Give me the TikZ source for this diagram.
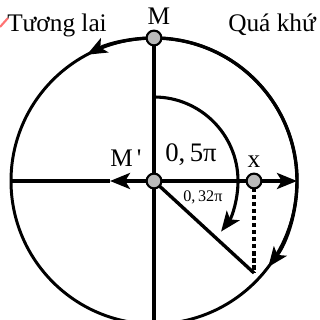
\documentclass[tikz,border=0pt]{standalone}
\usepackage{fontspec}
\setmainfont{Liberation Serif}
\usetikzlibrary{arrows.meta,positioning,calc}
\tikzset{
  dot/.style={circle, draw=black, fill=black!27, line width=1.5pt, minimum size=3.7mm, inner sep=0pt},
  lbl/.style={inner sep=0pt, font=\fontsize{18}{18}\selectfont},
  biglbl/.style={inner sep=0pt, font=\fontsize{19}{19}\selectfont},
  smalllbl/.style={inner sep=0pt, font=\fontsize{11.5}{11.5}\selectfont},
  axis/.style={line width=2.4pt},
  arrow/.style={-{Stealth[length=5mm,width=4mm,inset=1.2mm]}, line width=2.4pt},
  dotline/.style={line width=2.2pt, dash pattern=on 3pt off 2pt}
}
\begin{document}
\begin{tikzpicture}[x=0.025cm,y=0.025cm]
\useasboundingbox (-154,-139) rectangle (166,181);
\coordinate (O) at (0,0);
\coordinate (top) at (0,143);
\coordinate (bot) at (0,-139);
\coordinate (W) at (-143,0);
\coordinate (L) at (-44,0);
\coordinate (E) at (143,0);
\coordinate (xp) at (100,0);
\coordinate (P) at (100,-92);
% circle and axes
\draw[line width=2.1pt] (O) circle[radius=143];
\draw[arrow] (top) arc[start angle=90, end angle=-37, radius=143];
\draw[arrow] (top) arc[start angle=90, end angle=118, radius=143];
\draw[axis] (top) -- (bot);
\draw[axis] (W) -- (L);
\draw[arrow] (O) -- (L);
\draw[arrow] (O) -- (E);
\draw[axis] (O) -- (P);
\draw[dotline] (xp) -- (P);
\draw[arrow, line width=2.2pt] (0,84) arc[start angle=90, end angle=-37, radius=84];
% points
\node[dot] (M) at (top) {};
\node[dot] (Mp) at (O) {};
\node[dot] (X) at (xp) {};
% labels
\draw[red!55, line width=1.5pt] (-154,154) -- (-146,163);
\node[lbl, anchor=base west] (past) at (74,149) {Quá khứ};
\node[lbl, anchor=base west] (future) at (-147,149) {Tương lai};
\node[lbl, anchor=base] (Mlbl) at (5,156) {M};
\node[lbl, anchor=base west] (Mplbl) at (-44,14) {M\,\textquotesingle};
\node[biglbl, anchor=base west] (half) at (11,19) {0,\,5π};
\node[lbl, anchor=base] (xlbl) at (100,13) {x};
\node[smalllbl, anchor=base west] (ang) at (29,-21) {0,\,32π};
\end{tikzpicture}
\end{document}
